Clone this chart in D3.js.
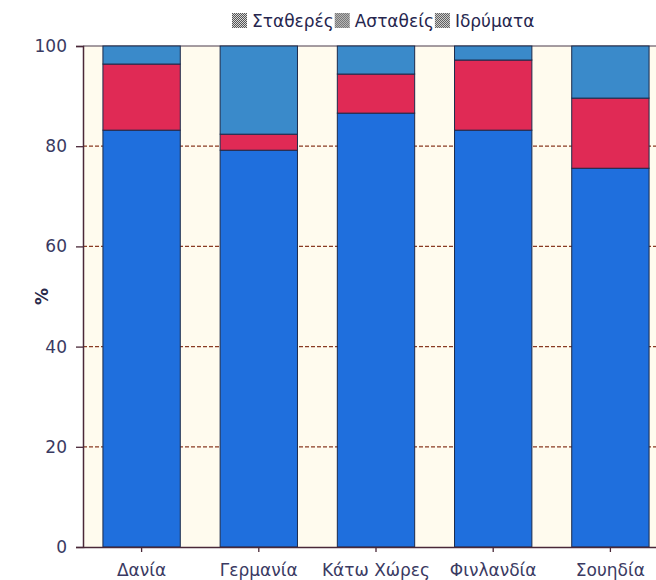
<!DOCTYPE html>
<html>
<head>
<meta charset="utf-8">
<script src="https://cdn.jsdelivr.net/npm/d3@7"></script>
<style>
  body { margin: 0; background: #ffffff; }
  svg { display: block; font-family: "DejaVu Sans", sans-serif; }
</style>
</head>
<body>
<svg id="chart" width="656" height="580"></svg>
<script>
// data (percent)
const countries = ['Δανία', 'Γερμανία', 'Κάτω Χώρες', 'Φινλανδία', 'Σουηδία'];
const stable = [83.2, 79.2, 86.6, 83.2, 75.6];
const unstable = [13.2, 3.2, 7.8, 14.0, 14.0];
const institutions = [3.6, 17.6, 5.6, 2.8, 10.4];
const seriesNames = ['Σταθερές', 'Ασταθείς', 'Ιδρύματα'];
const seriesColors = ['#1f6fdd', '#e02a55', '#3a8aca'];
const yTicks = [0, 20, 40, 60, 80, 100];

const svg = d3.select('#chart');
const margin = { top: 46, left: 83, bottom: 33 };
const height = 580;
const plotRight = 669; // plot runs past the window edge

const x = d3.scaleBand()
  .domain(countries)
  .range([margin.left, plotRight])
  .paddingInner(0.34)
  .paddingOuter(0.17);

const y = d3.scaleLinear()
  .domain([0, 100])
  .range([height - margin.bottom, margin.top]);

// stacked rows
const rows = countries.map((c, i) => ({
  country: c,
  [seriesNames[0]]: stable[i],
  [seriesNames[1]]: unstable[i],
  [seriesNames[2]]: institutions[i]
}));
const stack = d3.stack().keys(seriesNames)(rows);

// plot background
svg.append('rect')
  .attr('x', margin.left).attr('y', y(100))
  .attr('width', plotRight - margin.left).attr('height', y(0) - y(100))
  .attr('fill', '#fffbee');

// dashed grid lines
svg.append('g')
  .selectAll('line')
  .data(yTicks.filter(t => t > 0 && t < 100))
  .join('line')
  .attr('x1', margin.left).attr('x2', plotRight)
  .attr('y1', d => y(d)).attr('y2', d => y(d))
  .attr('stroke', '#8a3b22')
  .attr('stroke-width', 1.2)
  .attr('stroke-dasharray', '4,2');

// top border of plot
svg.append('line')
  .attr('x1', margin.left).attr('x2', plotRight)
  .attr('y1', y(100)).attr('y2', y(100))
  .attr('stroke', '#4a3a4a').attr('stroke-width', 1.2);

// bars
svg.append('g')
  .selectAll('g')
  .data(stack)
  .join('g')
  .attr('fill', (d, i) => seriesColors[i])
  .selectAll('rect')
  .data(d => d)
  .join('rect')
  .attr('x', d => x(d.data.country))
  .attr('width', x.bandwidth())
  .attr('y', d => y(d[1]))
  .attr('height', d => y(d[0]) - y(d[1]))
  .attr('stroke', '#1c2a4a')
  .attr('stroke-width', 1);

// y axis
const yAxis = svg.append('g')
  .attr('transform', `translate(${margin.left},0)`)
  .call(d3.axisLeft(y).tickValues(yTicks).tickSize(7).tickPadding(9));
yAxis.select('.domain').attr('stroke', '#4a2838').attr('stroke-width', 1.5);
yAxis.selectAll('.tick line').attr('stroke', '#4a2838').attr('stroke-width', 1.3);
yAxis.selectAll('.tick text')
  .attr('fill', '#3a3a62')
  .style('font-size', '17px')
  .style('font-family', '"DejaVu Sans", sans-serif');

// x axis
const xAxis = svg.append('g')
  .attr('transform', `translate(0,${y(0)})`)
  .call(d3.axisBottom(x).tickSize(5).tickPadding(12).tickSizeOuter(0));
xAxis.select('.domain').attr('stroke', '#4a2838').attr('stroke-width', 1.5);
xAxis.selectAll('.tick line').attr('stroke', '#4a2838').attr('stroke-width', 1.3);
xAxis.selectAll('.tick text')
  .attr('fill', '#3a3a62')
  .style('font-size', '17px')
  .style('font-family', '"DejaVu Sans", sans-serif');

// y label
svg.append('text')
  .attr('transform', `translate(48,${(y(0) + y(100)) / 2}) rotate(-90)`)
  .attr('text-anchor', 'middle')
  .attr('fill', '#2a2a4a')
  .style('font-size', '17px')
  .style('font-weight', 'bold')
  .text('%');

// legend with checkered swatches
const defs = svg.append('defs');
const pat = defs.append('pattern')
  .attr('id', 'chk').attr('width', 2).attr('height', 2)
  .attr('patternUnits', 'userSpaceOnUse');
pat.append('rect').attr('width', 2).attr('height', 2).attr('fill', '#d8d8d8');
pat.append('rect').attr('width', 1).attr('height', 1).attr('fill', '#555');
pat.append('rect').attr('x', 1).attr('y', 1).attr('width', 1).attr('height', 1).attr('fill', '#555');

const legend = svg.append('g').attr('transform', 'translate(232,21)');
let lx = 0;
seriesNames.forEach(name => {
  const item = legend.append('g').attr('transform', `translate(${lx},0)`);
  item.append('rect')
    .attr('x', 0).attr('y', -8).attr('width', 15).attr('height', 15)
    .attr('fill', 'url(#chk)');
  const t = item.append('text')
    .attr('x', 20).attr('dy', '0.35em')
    .attr('fill', '#26264e')
    .style('font-size', '17px')
    .text(name);
  lx += 20 + t.node().getComputedTextLength() + 1;
});
</script>
</body>
</html>
